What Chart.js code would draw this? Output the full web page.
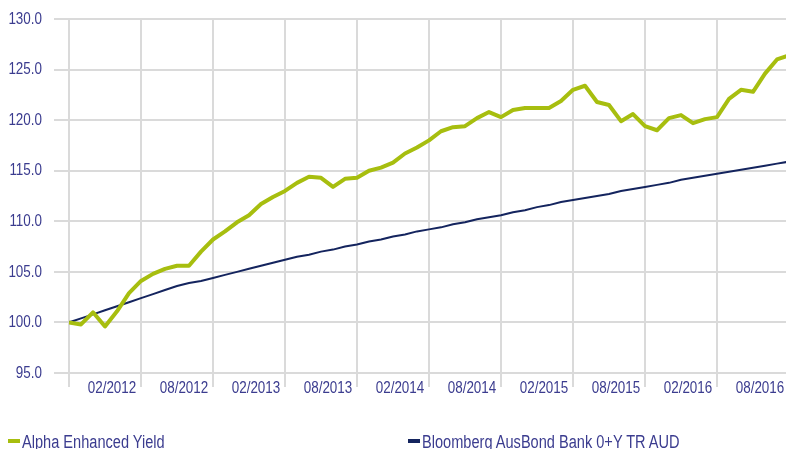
<!DOCTYPE html>
<html>
<head>
<meta charset="utf-8">
<script src="https://cdn.jsdelivr.net/npm/chart.js@4.4.1/dist/chart.umd.min.js"></script>
<style>
  html, body { margin: 0; padding: 0; background: #fff; overflow: hidden; }
  #wrap { position: relative; width: 786px; height: 449px; overflow: hidden; }
  #chart { display: block; }
  .lg-mark { position: absolute; height: 4px; width: 12px; }
  .lg-text { position: absolute; white-space: nowrap; font: 18px 'Liberation Sans', Arial, sans-serif; color: #3b3c8f;
             line-height: 18px; transform: scaleX(0.81); transform-origin: 0 0; }
</style>
</head>
<body>
<div id="wrap">
  <canvas id="chart" width="786" height="449"></canvas>
  <div id="legend"></div>
</div>
<script>
// month of each data point (monthly, start = 100)
const months = [
  '10/2011','11/2011','12/2011','01/2012','02/2012','03/2012','04/2012','05/2012','06/2012','07/2012','08/2012','09/2012',
  '10/2012','11/2012','12/2012','01/2013','02/2013','03/2013','04/2013','05/2013','06/2013','07/2013','08/2013','09/2013',
  '10/2013','11/2013','12/2013','01/2014','02/2014','03/2014','04/2014','05/2014','06/2014','07/2014','08/2014','09/2014',
  '10/2014','11/2014','12/2014','01/2015','02/2015','03/2015','04/2015','05/2015','06/2015','07/2015','08/2015','09/2015',
  '10/2015','11/2015','12/2015','01/2016','02/2016','03/2016','04/2016','05/2016','06/2016','07/2016','08/2016','09/2016',
  '10/2016'
];

const alphaValues = [
  100.0, 99.8, 101.0, 99.6, 101.1, 102.9, 104.1, 104.8, 105.3, 105.6, 105.6, 107.0,
  108.2, 109.0, 109.9, 110.6, 111.7, 112.4, 113.0, 113.8, 114.4, 114.3, 113.4, 114.2,
  114.3, 115.0, 115.3, 115.8, 116.7, 117.3, 118.0, 118.9, 119.3, 119.4, 120.2, 120.8,
  120.3, 121.0, 121.2, 121.2, 121.2, 121.9, 123.0, 123.4, 121.8, 121.5, 119.9, 120.6,
  119.4, 119.0, 120.2, 120.5, 119.7, 120.1, 120.3, 122.1, 123.0, 122.8, 124.6, 126.0,
  126.4
];

const benchValues = [
  100.0, 100.4, 100.8, 101.2, 101.6, 102.0, 102.4, 102.8, 103.2, 103.6, 103.9, 104.1,
  104.4, 104.7, 105.0, 105.3, 105.6, 105.9, 106.2, 106.5, 106.7, 107.0, 107.2, 107.5,
  107.7, 108.0, 108.2, 108.5, 108.7, 109.0, 109.2, 109.4, 109.7, 109.9, 110.2, 110.4,
  110.6, 110.9, 111.1, 111.4, 111.6, 111.9, 112.1, 112.3, 112.5, 112.7, 113.0, 113.2,
  113.4, 113.6, 113.8, 114.1, 114.3, 114.5, 114.7, 114.9, 115.1, 115.3, 115.5, 115.7,
  115.9
];

const seriesNames = ['Alpha Enhanced Yield', 'Bloomberg AusBond Bank 0+Y TR AUD'];
const xTickLabels = ['02/2012','08/2012','02/2013','08/2013','02/2014','08/2014','02/2015','08/2015','02/2016','08/2016'];
const yTicks = [95, 100, 105, 110, 115, 120, 125, 130];

const green = '#a7be0f';
const navy = '#14245e';
const gridColor = '#dadada';
const textColor = '#3b3c8f';
const fontFamily = "'Liberation Sans', Arial, sans-serif";
const fontSize = 17;
const narrow = 0.79; // squeeze to look like a narrow face

const toPoints = vals => vals.map((v, i) => ({ x: i, y: v }));

// draws the axis labels horizontally condensed
const narrowLabels = {
  id: 'narrowLabels',
  afterDraw(chart) {
    const { ctx, chartArea, scales } = chart;
    const drawText = (txt, px, py, align) => {
      ctx.save();
      ctx.translate(px, py);
      ctx.scale(narrow, 1);
      ctx.textAlign = align;
      ctx.fillText(txt, 0, 0);
      ctx.restore();
    };
    ctx.save();
    ctx.fillStyle = textColor;
    ctx.font = fontSize + 'px ' + fontFamily;
    ctx.textBaseline = 'middle';
    yTicks.forEach(v => drawText(v.toFixed(1), chartArea.left - 27, scales.y.getPixelForValue(v), 'right'));
    xTickLabels.forEach(lab => {
      const i = months.indexOf(lab);
      drawText(lab, scales.x.getPixelForValue(i) - 5, chartArea.bottom + 15.5, 'center');
    });
    ctx.restore();
  }
};

const chart = new Chart(document.getElementById('chart'), {
  type: 'line',
  data: {
    datasets: [
      { label: seriesNames[0], data: toPoints(alphaValues), borderColor: green, backgroundColor: green,
        borderWidth: 4, pointRadius: 0, tension: 0, borderJoinStyle: 'round' },
      { label: seriesNames[1], data: toPoints(benchValues), borderColor: navy, backgroundColor: navy,
        borderWidth: 2, pointRadius: 0, tension: 0 }
    ]
  },
  options: {
    responsive: false,
    animation: false,
    layout: { padding: { top: 19, right: 0, bottom: 36, left: 0 } },
    plugins: { legend: { display: false }, tooltip: { enabled: false } },
    scales: {
      x: {
        type: 'linear', min: 0, max: 59.75,
        afterBuildTicks: s => { s.ticks = months.map((m, i) => ({ value: i })).filter(t => t.value <= 59); },
        grid: {
          color: c => (c.tick && c.tick.value % 6 === 0) ? gridColor : 'rgba(0,0,0,0)',
          lineWidth: 2, tickLength: 14
        },
        border: { display: false },
        ticks: { display: false },
        afterFit: s => { s.height = 40; }
      },
      y: {
        min: 95, max: 130,
        afterBuildTicks: s => { s.ticks = yTicks.map(v => ({ value: v })); },
        grid: { color: gridColor, lineWidth: 2, tickLength: 15 },
        border: { display: false },
        ticks: { display: false },
        afterFit: s => { s.width = 69; }
      }
    }
  },
  plugins: [narrowLabels]
});

// legend below the chart
const legendPos = [8, 408];
const legend = document.getElementById('legend');
chart.data.datasets.forEach((ds, i) => {
  const mark = document.createElement('div');
  mark.className = 'lg-mark';
  mark.style.left = legendPos[i] + 'px';
  mark.style.top = '439px';
  mark.style.background = ds.borderColor;
  const txt = document.createElement('div');
  txt.className = 'lg-text';
  txt.style.left = (legendPos[i] + 14) + 'px';
  txt.style.top = '433px';
  txt.textContent = ds.label;
  legend.appendChild(mark);
  legend.appendChild(txt);
});
</script>
</body>
</html>
